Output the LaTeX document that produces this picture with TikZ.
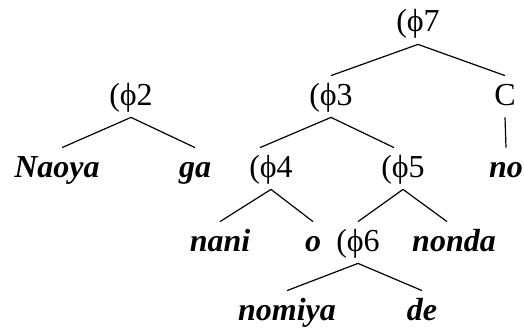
\documentclass[tikz,border=0pt]{standalone}
\usepackage{fontspec}
\setmainfont{Liberation Serif}
\usepackage{tikz}

\newcommand{\ph}{\symbol{"03D5}}

\begin{document}
\begin{tikzpicture}[
x=0.5pt, y=-0.5pt,
every node/.style={anchor=base, inner sep=0pt, text height=14.5pt, text depth=6pt, font=\fontsize{16}{19}\selectfont},
word/.style={font=\fontsize{16}{19}\selectfont\bfseries\itshape},
branch/.style={line width=0.6pt}
]
\useasboundingbox (0,0) rectangle (524,332);

\node (phi7) at (418,32) {(\ph7};
\node (phi3) at (331,105) {(\ph3};
\node (comp) at (505,105) {C};
\node (phi2) at (131,105) {(\ph2};
\node[word] (naoya) at (57,177) {Naoya};
\node[word] (ga) at (195,177) {ga};
\node (phi4) at (271,177) {(\ph4};
\node (phi5) at (403,177) {(\ph5};
\node[word] (no) at (506,177) {no};
\node[word] (nani) at (220,251) {nani};
\node[word] (o) at (313,251) {o};
\node (phi6) at (358,251) {(\ph6};
\node[word] (nonda) at (454,251) {nonda};
\node[word] (nomiya) at (287,320) {nomiya};
\node[word] (de) at (422,320) {de};

\draw[branch] (phi7.south) -- (phi3.north);
\draw[branch] (phi7.south) -- (comp.north);
\draw[branch] (comp.south) -- (no.north);
\draw[branch] (phi2.south) -- ([xshift=2.5pt]naoya.north);
\draw[branch] (phi2.south) -- (ga.north);
\draw[branch] (phi3.south) -- ([xshift=-5.5pt]phi4.north);
\draw[branch] (phi3.south) -- ([xshift=-4.5pt]phi5.north);
\draw[branch] (phi4.south) -- (nani.north);
\draw[branch] (phi4.south) -- (o.north);
\draw[branch] (phi5.south) -- (phi6.north);
\draw[branch] (phi5.south) -- ([xshift=-3.5pt]nonda.north);
\draw[branch] (phi6.south) -- (nomiya.north);
\draw[branch] (phi6.south) -- (de.north);
\end{tikzpicture}
\end{document}
